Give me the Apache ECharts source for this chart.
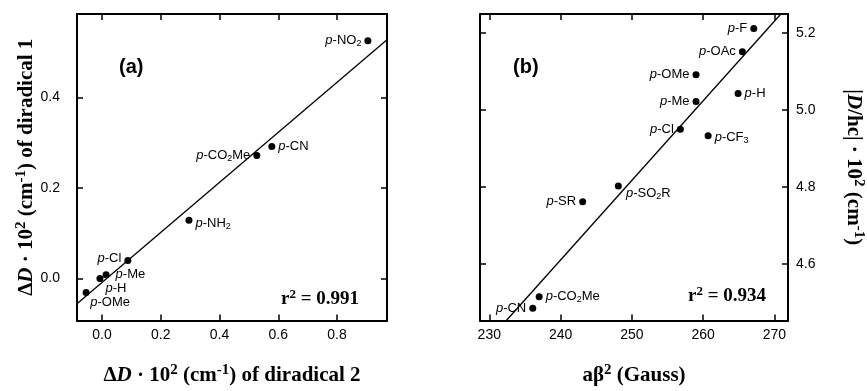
<!DOCTYPE html>
<html>
<head>
<meta charset="utf-8">
<script src="https://cdn.jsdelivr.net/npm/echarts@6/dist/echarts.min.js"></script>
<style>
  html, body { margin: 0; background: #fff; }
  #chart { width: 867px; height: 391px; }
</style>
</head>
<body>
<div id="chart"></div>
<script>
// panel (a): ΔD of diradical 2 vs diradical 1
const aLabels = ['{i|p}-NO{s|2}', '{i|p}-CN', '{i|p}-CO{s|2}Me', '{i|p}-NH{s|2}', '{i|p}-Cl', '{i|p}-Me', '{i|p}-H', '{i|p}-OMe']
const aX = [0.905, 0.578, 0.527, 0.296, 0.088, 0.014, -0.007, -0.054]
const aY = [0.526, 0.292, 0.272, 0.129, 0.040, 0.008, 0.000, -0.031]
const aFitX = [-0.085, 0.97]
const aFitY = [-0.056, 0.528]
const aXTicks = [0, 0.2, 0.4, 0.6, 0.8]
const aYTicks = [0, 0.2, 0.4]

// panel (b): aβ² vs |D/hc|
const bLabels = ['{i|p}-F', '{i|p}-OAc', '{i|p}-OMe', '{i|p}-H', '{i|p}-Me', '{i|p}-Cl', '{i|p}-CF{s|3}', '{i|p}-SO{s|2}R', '{i|p}-SR', '{i|p}-CO{s|2}Me', '{i|p}-CN']
const bX = [267.1, 265.5, 259.0, 264.9, 259.0, 256.8, 260.7, 248.1, 243.1, 237.0, 236.1]
const bY = [5.212, 5.152, 5.092, 5.043, 5.022, 4.950, 4.933, 4.802, 4.761, 4.514, 4.484]
const bFitX = [232.4, 270.9]
const bFitY = [4.452, 5.25]
const bXTicks = [230, 240, 250, 260, 270]
const bYTicks = [4.6, 4.8, 5.0, 5.2]

// label placement next to each dot: [position, offset]
const aPlace = [
  ['left', [0, 0]], ['right', [0, 0]], ['left', [0, 0]], ['right', [0, 3]],
  ['left', [0, -2]], ['right', [3, 0]], ['inside', [16, 10]], ['inside', [24, 10]],
]
const bPlace = [
  ['left', [0, 0]], ['left', [0, 0]], ['left', [0, 0]], ['right', [0, 0]],
  ['left', [0, 0]], ['left', [0, 0]], ['right', [0, 2]], ['inside', [30, 7]],
  ['left', [0, 0]], ['right', [0, 0]], ['left', [0, 0]],
]

const SANS = 'Liberation Sans'
const SERIF = 'Liberation Serif'

const pointRich = {
  i: { fontFamily: SANS, fontSize: 13, fontStyle: 'italic', color: '#000' },
  s: { fontFamily: SANS, fontSize: 9, color: '#000', padding: [6, 0, 0, 0] },
}

function rich(size) {
  return {
    t: { fontFamily: SERIF, fontSize: size, fontWeight: 'bold', color: '#000' },
    it: { fontFamily: SERIF, fontSize: size, fontWeight: 'bold', fontStyle: 'italic', color: '#000' },
    sup: { fontFamily: SERIF, fontSize: Math.round(size * 0.7), fontWeight: 'bold', color: '#000', padding: [0, 0, Math.round(size * 0.5), 0] },
  }
}

function axis(gridIndex, position, min, max, ticks, showLabel, fmt, margin, extra) {
  return Object.assign({
    type: 'value',
    gridIndex,
    position,
    min,
    max,
    axisLine: { show: true, onZero: false, lineStyle: { color: '#000', width: 2 } },
    axisTick: { show: true, inside: true, length: 6, customValues: ticks, lineStyle: { color: '#000', width: 1.5 } },
    axisLabel: {
      show: showLabel,
      customValues: ticks,
      formatter: fmt,
      color: '#000',
      fontFamily: SANS,
      fontSize: 14,
      margin,
    },
    splitLine: { show: false },
  }, extra || {})
}

function dots(xi, yi, xs, ys, labels, place) {
  return {
    type: 'scatter',
    xAxisIndex: xi,
    yAxisIndex: yi,
    symbolSize: 7,
    itemStyle: { color: '#000', opacity: 1 },
    label: {
      show: true,
      distance: 3,
      color: '#000',
      fontFamily: SANS,
      fontSize: 13,
      rich: pointRich,
      formatter: (p) => labels[p.dataIndex],
    },
    data: xs.map((x, i) => ({
      value: [x, ys[i]],
      label: { position: place[i][0], offset: place[i][1] },
    })),
    z: 3,
  }
}

function fit(xi, yi, xs, ys) {
  return {
    type: 'line',
    xAxisIndex: xi,
    yAxisIndex: yi,
    showSymbol: false,
    lineStyle: { color: '#000', width: 1.3 },
    data: xs.map((x, i) => [x, ys[i]]),
    z: 2,
  }
}

const fmt1 = (v) => Number(v).toFixed(1)
const fmt0 = (v) => String(Math.round(v))
const panelTag = { fontFamily: SANS, fontSize: 20, fontWeight: 'bold', color: '#000' }

const option = {
  animation: false,
  backgroundColor: '#fff',
  grid: [
    { left: 77, top: 14, width: 310, height: 310 },
    { left: 480, top: 14, width: 310, height: 309 },
  ],
  title: [
    { text: '(a)', left: 114, top: 52, textStyle: panelTag },
    { text: '(b)', left: 508, top: 52, textStyle: panelTag },
    { text: '{t|r}{sup|2}{t| = 0.991}', left: 276, top: 283, textStyle: { rich: rich(19) } },
    { text: '{t|r}{sup|2}{t| = 0.934}', left: 683, top: 280, textStyle: { rich: rich(19) } },
  ],
  xAxis: [
    axis(0, 'bottom', -0.085, 0.97, aXTicks, true, fmt1, 8, {
      name: '{t|Δ}{it|D}{t| · 10}{sup|2}{t| (cm}{sup|-1}{t|) of diradical 2}',
      nameLocation: 'middle',
      nameGap: 42,
      nameTextStyle: { rich: rich(21) },
    }),
    axis(0, 'top', -0.085, 0.97, aXTicks, false, fmt1, 8),
    axis(1, 'bottom', 228.7, 271.9, bXTicks, true, fmt0, 8, {
      name: '{t|aβ}{sup|2}{t| (Gauss)}',
      nameLocation: 'middle',
      nameGap: 42,
      nameTextStyle: { rich: rich(21) },
    }),
    axis(1, 'top', 228.7, 271.9, bXTicks, false, fmt0, 8),
  ],
  yAxis: [
    axis(0, 'left', -0.093, 0.585, aYTicks, true, fmt1, 17, {
      name: '{t|Δ}{it|D}{t| · 10}{sup|2}{t| (cm}{sup|-1}{t|) of diradical 1}',
      nameLocation: 'middle',
      nameRotate: 90,
      nameGap: 30,
      nameTextStyle: { rich: rich(21) },
    }),
    axis(0, 'right', -0.093, 0.585, aYTicks, false, fmt1, 8),
    axis(1, 'right', 4.452, 5.25, bYTicks, true, fmt1, 8, {
      name: '{t||}{it|D}{t|/hc| · 10}{sup|2}{t| (cm}{sup|-1}{t|)}',
      nameLocation: 'middle',
      nameRotate: -90,
      nameGap: 52,
      nameTextStyle: { rich: rich(21) },
    }),
    axis(1, 'left', 4.452, 5.25, bYTicks, false, fmt1, 8),
  ],
  series: [
    fit(0, 0, aFitX, aFitY),
    dots(0, 0, aX, aY, aLabels, aPlace),
    fit(2, 2, bFitX, bFitY),
    dots(2, 2, bX, bY, bLabels, bPlace),
  ],
}

const chart = echarts.init(document.getElementById('chart'), null, { renderer: 'canvas' })
chart.setOption(option)
</script>
</body>
</html>
